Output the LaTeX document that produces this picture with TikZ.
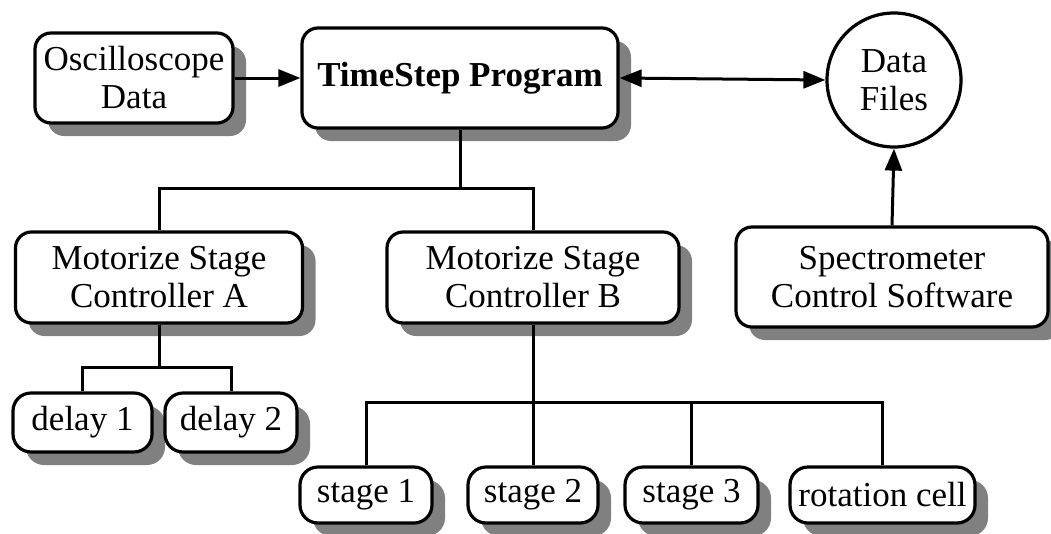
\documentclass[tikz,border=0pt]{standalone}
\usepackage{fontspec}
\setmainfont{Liberation Serif}
\usetikzlibrary{shadows,arrows.meta}
\begin{document}
\begin{tikzpicture}[x=1pt,y=-1pt,
  box/.style={draw=black,line width=3.2pt,fill=white,rounded corners=16pt,align=center,inner sep=0pt,
    font=\fontsize{35}{38}\selectfont,
    drop shadow={shadow xshift=13pt,shadow yshift=-13pt,fill=black!50,opacity=1}},
  sbox/.style={box,rounded corners=18pt},
  conn/.style={line width=3pt},
  tip/.tip={Triangle[length=22pt,width=17pt]},
  arr/.style={conn,-tip},
  darr/.style={conn,tip-tip}]
\useasboundingbox (0,0) rectangle (1051,533);
\node[box,minimum width=198pt,minimum height=90pt] (osc) at (134,78) {Oscilloscope\\Data};
\node[box,minimum width=316pt,minimum height=100pt,font=\fontsize{35}{38}\selectfont\bfseries] (ts) at (460,78) {TimeStep Program};
\node[draw=black,line width=3.2pt,fill=white,circle,minimum size=134pt,inner sep=0pt,align=center,font=\fontsize{35}{38}\selectfont] (df) at (894,80) {Data\\Files};
\node[box,minimum width=312pt,minimum height=100pt] (spec) at (892,277) {Spectrometer\\Control Software};
\node[box,minimum width=287pt,minimum height=91pt] (ca) at (159,277.5) {Motorize Stage\\Controller A};
\node[box,minimum width=292pt,minimum height=91pt] (cb) at (533,277.5) {Motorize Stage\\Controller B};
\node[sbox,minimum width=139pt,minimum height=59pt] (d1) at (82.5,422.5) {delay 1};
\node[sbox,minimum width=132pt,minimum height=59pt] (d2) at (231,422.5) {delay 2};
\node[sbox,minimum width=132pt,minimum height=56pt] (s1) at (366,495) {stage 1};
\node[sbox,minimum width=130pt,minimum height=56pt] (s2) at (533,495) {stage 2};
\node[sbox,minimum width=133pt,minimum height=56pt] (s3) at (691.5,495) {stage 3};
\node[sbox,minimum width=185pt,minimum height=56pt] (rc) at (882.5,495) {rotation cell};
\coordinate (j1) at (460,188);
\coordinate (j2) at (159,367);
\coordinate (j3) at (533,402);
\draw[arr] (osc.east) -- (ts.west);
\draw[darr] (ts.east) -- (df.west);
\draw[arr] (spec.north) -- (df.south);
\draw[conn] (ts.south) -- (j1);
\draw[conn] (ca.north) |- (j1) -| (cb.north);
\draw[conn] (ca.south) -- (j2);
\draw[conn] (d1.north) |- (j2) -| (d2.north);
\draw[conn] (cb.south) -- (s2.north);
\draw[conn] (s1.north) |- (j3) -| (rc.north);
\draw[conn] (s3.north) -- (s3.north |- j3);
\end{tikzpicture}
\end{document}
